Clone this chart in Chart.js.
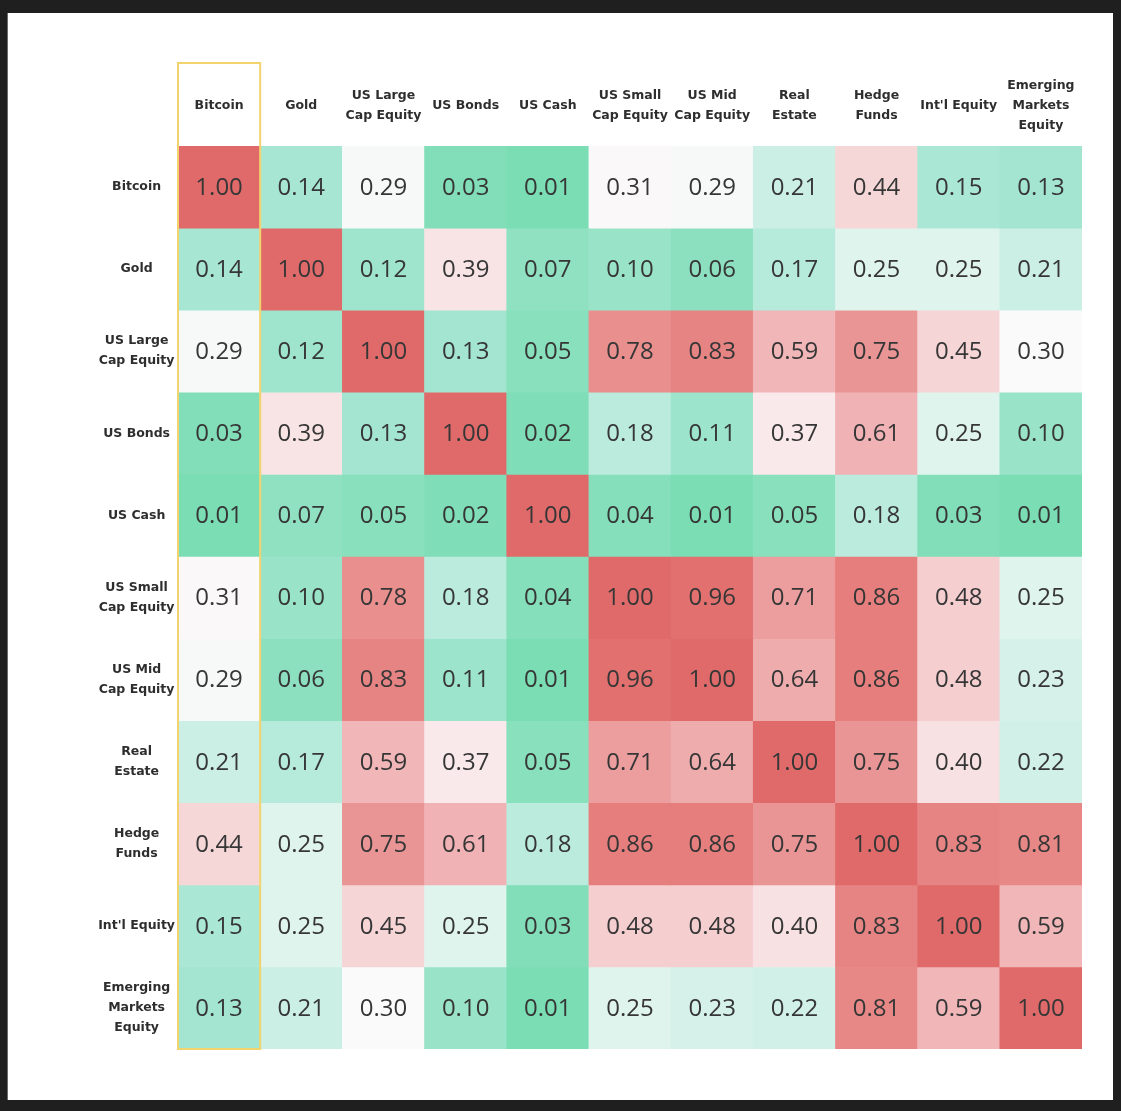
<!DOCTYPE html>
<html>
<head>
<meta charset="utf-8">
<script src="https://cdn.jsdelivr.net/npm/chart.js@4.4.1/dist/chart.umd.min.js"></script>
<style>
  html, body { margin: 0; padding: 0; background: #1f1f1f; }
  #panel { position: absolute; left: 7px; top: 13px; width: 1106px; height: 1087px; background: #fff; border-left: 1px solid #6a6a6a; box-sizing: border-box; }
  #wrap { position: absolute; left: 0; top: 0; width: 1106px; height: 1087px; }
</style>
</head>
<body>
<div id="panel"><div id="wrap"><canvas id="heat"></canvas></div></div>
<script>
const assets = ["Bitcoin", "Gold", "US Large Cap Equity", "US Bonds", "US Cash", "US Small Cap Equity",
  "US Mid Cap Equity", "Real Estate", "Hedge Funds", "Int'l Equity", "Emerging Markets Equity"];

// etiquetas tal como se ven (con saltos de linea)
const colLabels = [["Bitcoin"], ["Gold"], ["US Large", "Cap Equity"], ["US Bonds"], ["US Cash"],
  ["US Small", "Cap Equity"], ["US Mid", "Cap Equity"], ["Real", "Estate"], ["Hedge", "Funds"],
  ["Int'l Equity"], ["Emerging", "Markets", "Equity"]];
const rowLabels = [["Bitcoin"], ["Gold"], ["US Large", "Cap Equity"], ["US Bonds"], ["US Cash"],
  ["US Small", "Cap Equity"], ["US Mid", "Cap Equity"], ["Real", "Estate"], ["Hedge", "Funds"],
  ["Int'l Equity"], ["Emerging", "Markets", "Equity"]];

const rowBitcoin  = [1.00, 0.14, 0.29, 0.03, 0.01, 0.31, 0.29, 0.21, 0.44, 0.15, 0.13];
const rowGold     = [0.14, 1.00, 0.12, 0.39, 0.07, 0.10, 0.06, 0.17, 0.25, 0.25, 0.21];
const rowLarge    = [0.29, 0.12, 1.00, 0.13, 0.05, 0.78, 0.83, 0.59, 0.75, 0.45, 0.30];
const rowBonds    = [0.03, 0.39, 0.13, 1.00, 0.02, 0.18, 0.11, 0.37, 0.61, 0.25, 0.10];
const rowCash     = [0.01, 0.07, 0.05, 0.02, 1.00, 0.04, 0.01, 0.05, 0.18, 0.03, 0.01];
const rowSmall    = [0.31, 0.10, 0.78, 0.18, 0.04, 1.00, 0.96, 0.71, 0.86, 0.48, 0.25];
const rowMid      = [0.29, 0.06, 0.83, 0.11, 0.01, 0.96, 1.00, 0.64, 0.86, 0.48, 0.23];
const rowReal     = [0.21, 0.17, 0.59, 0.37, 0.05, 0.71, 0.64, 1.00, 0.75, 0.40, 0.22];
const rowHedge    = [0.44, 0.25, 0.75, 0.61, 0.18, 0.86, 0.86, 0.75, 1.00, 0.83, 0.81];
const rowIntl     = [0.15, 0.25, 0.45, 0.25, 0.03, 0.48, 0.48, 0.40, 0.83, 1.00, 0.59];
const rowEmerging = [0.13, 0.21, 0.30, 0.10, 0.01, 0.25, 0.23, 0.22, 0.81, 0.59, 1.00];

const rows = [rowBitcoin, rowGold, rowLarge, rowBonds, rowCash, rowSmall, rowMid, rowReal, rowHedge, rowIntl, rowEmerging];

// escala de color verde -> blanco -> rojo
const stops = [
  [0.00, [120, 220, 178]],
  [0.14, [166, 230, 210]],
  [0.30, [251, 250, 251]],
  [0.44, [246, 215, 216]],
  [0.61, [240, 178, 180]],
  [0.86, [229, 126, 124]],
  [1.00, [224, 106, 106]]
];
function colorFor(v) {
  for (let i = 1; i < stops.length; i++) {
    if (v <= stops[i][0]) {
      const [a, ca] = stops[i - 1], [b, cb] = stops[i];
      const t = (v - a) / (b - a);
      const c = ca.map((x, k) => Math.round(x + (cb[k] - x) * t));
      return `rgb(${c[0]},${c[1]},${c[2]})`;
    }
  }
  return 'rgb(224,106,106)';
}

const textFont = "'DejaVu Sans', sans-serif";

const valueLabels = {
  id: 'valueLabels',
  afterDatasetsDraw(chart) {
    const ctx = chart.ctx;
    ctx.save();
    ctx.font = "400 24px 'Open Sans', sans-serif";
    ctx.fillStyle = '#363636';
    ctx.textAlign = 'center';
    ctx.textBaseline = 'middle';
    chart.data.datasets.forEach((ds, r) => {
      chart.getDatasetMeta(r).data.forEach((bar, c) => {
        ctx.fillText(rows[r][c].toFixed(2), bar.x, (bar.y + bar.base) / 2 + 1);
      });
    });
    ctx.restore();
  }
};

// recuadro amarillo de la columna Bitcoin
const highlight = {
  id: 'highlight',
  afterDraw(chart) {
    const bar = chart.getDatasetMeta(0).data[0];
    const ctx = chart.ctx;
    const left = bar.x - bar.width / 2, right = bar.x + bar.width / 2;
    ctx.save();
    ctx.strokeStyle = '#f3d36e';
    ctx.lineWidth = 2;
    ctx.strokeRect(left, 50, right - left, chart.chartArea.bottom - 50);
    ctx.restore();
  }
};

new Chart(document.getElementById('heat'), {
  type: 'bar',
  data: {
    labels: colLabels,
    datasets: rows.map((vals, r) => ({
      label: assets[r],
      data: vals.map(() => [r, r + 1]),
      backgroundColor: vals.map(colorFor),
      borderWidth: 0,
      barPercentage: 1,
      categoryPercentage: 1,
      grouped: false
    }))
  },
  options: {
    responsive: true,
    maintainAspectRatio: false,
    animation: false,
    layout: { padding: { left: 0, top: 0, right: 32, bottom: 51 } },
    plugins: { legend: { display: false }, tooltip: { enabled: false } },
    scales: {
      x: {
        position: 'top',
        grid: { display: false, drawTicks: false },
        border: { display: false },
        afterFit(scale) { scale.height = 133; },
        ticks: {
          autoSkip: false, maxRotation: 0, crossAlign: 'center', padding: 20,
          color: '#2e2e2e', font: { family: textFont, weight: 'bold', size: 12.5, lineHeight: 1.6 }
        }
      },
      y: {
        min: 0, max: 11, reverse: true,
        grid: { display: false, drawTicks: false },
        border: { display: false },
        afterFit(scale) { scale.width = 170; },
        afterBuildTicks(scale) { scale.ticks = rowLabels.map((_, i) => ({ value: i + 0.5 })); },
        ticks: {
          crossAlign: 'center', padding: 3,
          callback: (v, i) => rowLabels[i],
          color: '#2e2e2e', font: { family: textFont, weight: 'bold', size: 12.5, lineHeight: 1.6 }
        }
      }
    }
  },
  plugins: [valueLabels, highlight]
});
</script>
</body>
</html>
